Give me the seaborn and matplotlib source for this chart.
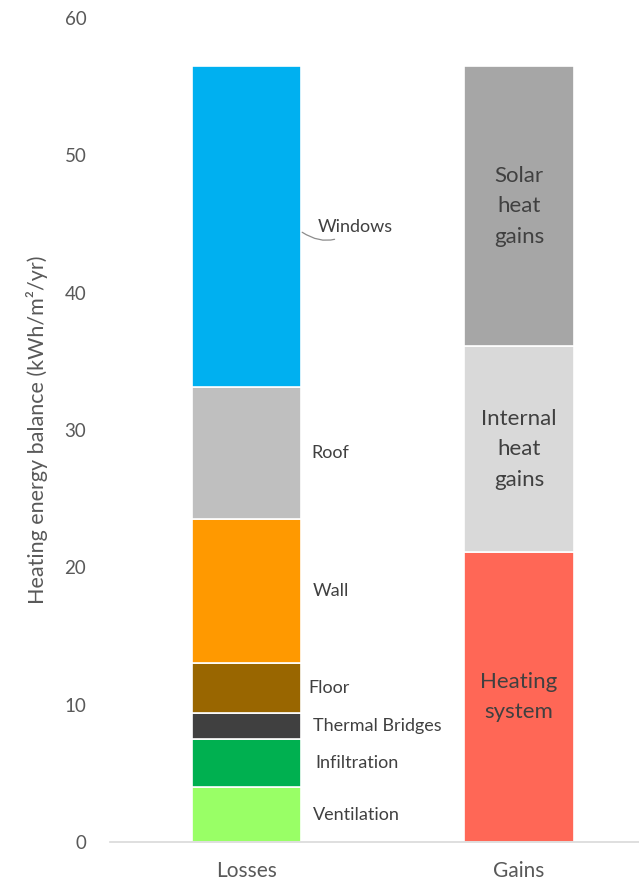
import matplotlib
matplotlib.use("Agg")
import matplotlib.pyplot as plt
import seaborn as sns
import pandas as pd

# Heating energy balance (kWh/m²/yr)
columns = ["Losses", "Gains"]

loss_items = ["Ventilation", "Infiltration", "Thermal Bridges", "Floor", "Wall", "Roof", "Windows"]
loss_values = [4.0, 3.5, 1.9, 3.6, 10.5, 9.6, 23.4]
loss_colors = ["#99FF66", "#00B050", "#404040", "#996600", "#FF9900", "#BFBFBF", "#00B0F0"]

gain_items = ["Heating\nsystem", "Internal\nheat\ngains", "Solar\nheat\ngains"]
gain_values = [21.1, 15.0, 20.4]
gain_colors = ["#FF6756", "#D9D9D9", "#A6A6A6"]

y_ticks = [0, 10, 20, 30, 40, 50, 60]

sns.set_theme(style="white")
plt.rcParams["font.family"] = ["Lato", "DejaVu Sans"]

text_grey = "#595959"

fig = plt.figure(figsize=(6.39, 8.83), dpi=100)
ax = fig.add_axes([0.172, 0.0464, 0.828, 0.9332])


def stack(column, items, values, colors):
    rows = []
    bottom = 0.0
    for item, val, col in zip(items, values, colors):
        df = pd.DataFrame({"column": [column], "value": [val]})
        sns.barplot(data=df, x="column", y="value", order=columns, bottom=bottom,
                    color=col, width=0.4, edgecolor="white", linewidth=1.2,
                    saturation=1, ax=ax)
        rows.append((item, bottom + val / 2.0))
        bottom += val
    return rows


loss_mid = stack("Losses", loss_items, loss_values, loss_colors)
gain_mid = stack("Gains", gain_items, gain_values, gain_colors)

# Loss labels beside the stack
label_dx = {"Ventilation": 0.245, "Infiltration": 0.255, "Thermal Bridges": 0.245,
            "Floor": 0.228, "Wall": 0.245, "Roof": 0.24, "Windows": 0.262}
for item, mid in loss_mid:
    if item == "Windows":
        ax.annotate(item, xy=(0.205, mid - 0.4), xytext=(0.262, mid),
                    fontsize=13, color="#404040", va="center", ha="left",
                    arrowprops=dict(arrowstyle="-", color="#8C8C8C", lw=0.9,
                                    shrinkA=3, shrinkB=0,
                                    connectionstyle="arc3,rad=-0.4"))
    else:
        ax.text(label_dx[item], mid, item, fontsize=13, color="#404040",
                va="center", ha="left")

# Gain labels inside the stack
for item, mid in gain_mid:
    ax.text(1, mid, item, fontsize=16, color="#404040", va="center", ha="center",
            linespacing=1.65)

ax.set_ylim(0, 60)
ax.set_xlim(-0.5, 1.44)
ax.set_yticks(y_ticks)
ax.set_yticklabels([str(t) for t in y_ticks], fontsize=13.5, color=text_grey)
ax.tick_params(axis="y", length=0, pad=17)
ax.tick_params(axis="x", length=0, pad=14, labelsize=15, labelcolor=text_grey)
ax.set_xlabel("")
ax.set_ylabel("Heating energy balance (kWh/m²/yr)", fontsize=15.5, color=text_grey,
              labelpad=12)

for side in ["top", "right", "left"]:
    ax.spines[side].set_visible(False)
ax.spines["bottom"].set_color("#D9D9D9")
ax.spines["bottom"].set_linewidth(1.2)

fig.savefig("out.png", dpi=100)
